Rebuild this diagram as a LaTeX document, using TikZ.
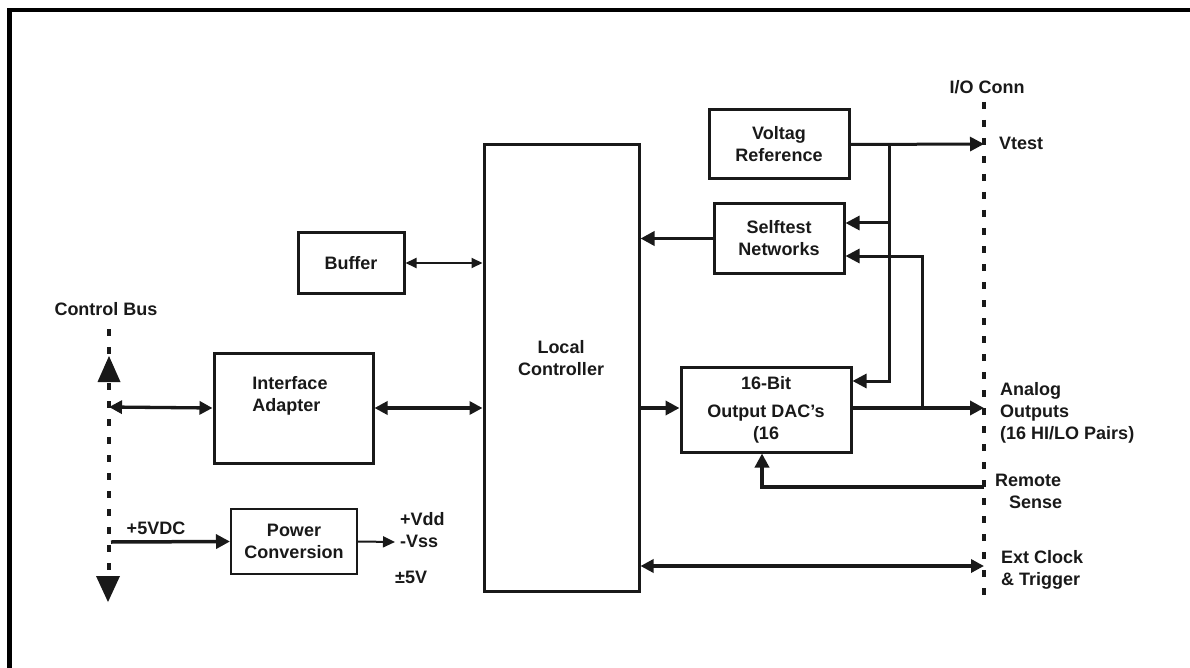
\documentclass[tikz,border=0pt]{standalone}
\usepackage{fontspec}
\setmainfont{Liberation Sans}
\usetikzlibrary{arrows.meta}
\tikzset{
  txt/.style={font=\fontsize{18}{22}\selectfont\bfseries, inner sep=0pt, text=black!90},
  box/.style={draw=black!90, line width=3pt, inner sep=0pt, txt, align=center},
  thickc/.style={draw=black!90, line width=3.5pt, -{Triangle[length=14pt,width=14pt]}},
  thickd/.style={draw=black!90, line width=3.3pt, {Triangle[length=13pt,width=13pt]}-{Triangle[length=13pt,width=13pt]}},
  thinc/.style={draw=black!90, line width=2pt, -{Triangle[length=12pt,width=11pt]}},
  thind/.style={draw=black!90, line width=2pt, {Triangle[length=11pt,width=10pt]}-{Triangle[length=11pt,width=10pt]}},
  busline/.style={draw=black!90, line width=4pt, dash pattern=on 7pt off 11pt},
}
\begin{document}
\begin{tikzpicture}[x=1pt,y=-1pt]
\useasboundingbox (0,0) rectangle (1190,668);
% outer frame
\draw[line width=4.5pt, black] (9.5,668) -- (9.5,10) -- (1190,10);

% boxes
\node[box, minimum width=106pt, minimum height=60pt] (buf) at (351,263) {Buffer};
\node[box, minimum width=159pt, minimum height=110pt] (ia) at (293.5,408) {};
\node[txt, align=left] (iat) at (290,396) {Interface\\Adapter};
\node[box, line width=2pt, minimum width=126pt, minimum height=65pt] (pc) at (294,541.5) {Power\\Conversion};
\node[box, minimum width=155pt, minimum height=446pt] (lc) at (561.5,368) {};
\node[txt, align=center] (lct) at (561,358) {Local\\Controller};
\node[box, minimum width=140pt, minimum height=69pt] (vr) at (779,144.5) {Voltag\\Reference};
\node[box, minimum width=130pt, minimum height=69pt] (st) at (779,238.5) {Selftest\\Networks};
\node[box, minimum width=170pt, minimum height=85pt] (dac) at (766,409.5) {16-Bit\\[6pt]Output DAC's\\(16};

% bus lines
\draw[busline] (109,329) -- (109,578);
\draw[busline] (984,102) -- (984,598);
\fill[black!90] (109,356) -- (97.5,382) -- (120.5,382) -- cycle;
\fill[black!90] (108,602) -- (96,576) -- (120,576) -- cycle;

% coordinates on the buses
\coordinate (busA) at (109,407);
\coordinate (busP) at (111,542);
\coordinate (pout) at (395,542);
\coordinate (vtest) at (984,144);
\coordinate (j1) at (889,144);
\coordinate (j2) at (922,408);
\coordinate (aout) at (984,408);
\coordinate (rs) at (984,487);
\coordinate (ext) at (984,566);

% labels
\node[txt] (io) at (987,87) {I/O Conn};
\node[txt] (cb) at (106,309) {Control Bus};
\node[txt, anchor=west] (vt) at (999,143) {Vtest};
\node[txt, anchor=west, align=left] (ao) at (1000,413) {Analog\\Outputs\\(16 HI/LO Pairs)};
\node[txt, anchor=west, align=left] (rst) at (995,491.5) {Remote\\\hspace*{14pt}Sense};
\node[txt, anchor=west, align=left] (ect) at (1001,570) {Ext Clock\\\& Trigger};
\node[txt] (v5) at (156,528) {+5VDC};
\node[txt, anchor=west, align=left] (vdd) at (400,530) {+Vdd\\-Vss};
\node[txt, anchor=west] (pm5) at (395,577) {±5V};

% connectors
\draw[thickd] (busA) -- (ia.west);
\draw[thickd] (ia.east) -- (ia.east -| lc.west);
\draw[thind] (buf.east) -- (buf.east -| lc.west);
\draw[thickc] (busP) -- (pc.west);
\draw[thinc] (pc.east) -- (pout);
\draw[thickc, line width=3pt] (vr.east) -- (vtest);
\draw[thickc, line width=3pt] (j1) |- (dac.east |- 0,381);
\draw[thickc, line width=3pt] (j1 |- 0,223) -- (st.east |- 0,223);
\draw[thickc, line width=3pt] (j2) |- (st.east |- 0,256);
\draw[thickc] (st.west) -- (st.west -| lc.east);
\draw[thickc] (lc.east |- aout) -- (dac.west |- aout);
\draw[thickc, line width=4pt] (dac.east |- aout) -- (aout);
\draw[thickc] (rs) -| ([xshift=-4pt]dac.south);
\draw[thickd] (lc.east |- ext) -- (ext);
\end{tikzpicture}
\end{document}
